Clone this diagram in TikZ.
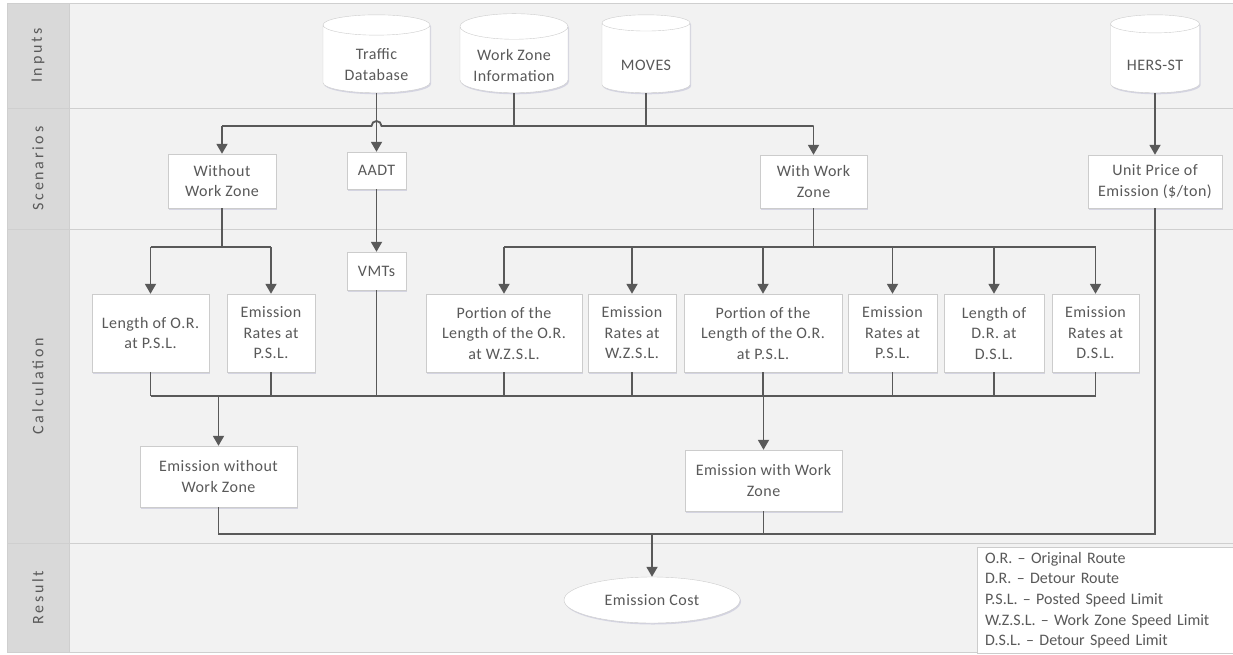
\documentclass[tikz,border=0pt]{standalone}
\usepackage{fontspec}
\setmainfont{Carlito}
\newfontfamily\lanefont[LetterSpace=17]{Carlito}
\newfontfamily\boxfont[LetterSpace=3]{Carlito}
\usetikzlibrary{shapes,shapes.geometric,arrows.meta,shadows,positioning,calc}
\definecolor{lanebg}{HTML}{F2F2F2}
\definecolor{lanehead}{HTML}{D9D9D9}
\definecolor{laneline}{HTML}{CFCFCF}
\definecolor{inkgray}{HTML}{595959}
\definecolor{boxline}{HTML}{CCCCCC}
\tikzset{
    box/.style={draw=boxline,fill=white,align=center,text=inkgray,inner sep=2pt,font=\boxfont\fontsize{16}{20.5}\selectfont,
        drop shadow={shadow xshift=1pt,shadow yshift=-1.5pt,fill=blue!25!gray,opacity=0.2}},
    db/.style={box,cylinder,shape border rotate=90,aspect=0.3,minimum height=78pt,anchor=south,text depth=0pt},
    dbone/.style={db,text height=22pt},
    dbtwo/.style={db,text height=40pt},
    endell/.style={box,ellipse},
    legend/.style={draw=boxline,fill=white,align=left,text=inkgray,font=\fontsize{16}{20.7}\selectfont},
    feed/.style={-{Triangle[width=11pt,length=10pt]},line width=1.8pt,draw=inkgray},
    merge/.style={-,line width=1.3pt,draw=inkgray},
    lanetxt/.style={rotate=90,text=inkgray,font=\lanefont\fontsize{16}{18}\selectfont},
}
\begin{document}
\begin{tikzpicture}[x=1pt,y=-1pt]
\useasboundingbox (0,0) rectangle (1233,654);
% Lanes
\fill[lanebg] (7,3) rectangle (1233,652);
\fill[lanehead] (7,3) rectangle (69,652);
\foreach \y in {3,108,229,543,652}
    \draw[laneline,line width=1pt] (7,\y) -- (1233,\y);
\draw[laneline,line width=1pt] (7,3) -- (7,652);
\draw[laneline] (69,3) -- (69,652);
\node[lanetxt] (inputs) at (38,55.5) {Inputs};
\node[lanetxt] (scenarios) at (38,168.5) {Scenarios};
\node[lanetxt] (calculation) at (38,386) {Calculation};
\node[lanetxt] (result) at (38,597.5) {Result};
% Inputs
\node[dbtwo,minimum width=107pt] (traffic) at (376.5,93) {Traffic\\Database};
\node[dbtwo,minimum width=108pt] (wzinfo) at (514,93) {Work Zone\\Information};
\node[dbone,minimum width=88pt] (moves) at (646,93) {MOVES};
\node[dbone,minimum width=89pt] (hers) at (1155,93) {HERS-ST};
% Scenarios
\node[box,minimum width=108pt,minimum height=54pt] (nowz) at (222,181) {Without\\Work Zone};
\node[box,minimum width=59pt,minimum height=37pt] (aadt) at (376.5,170.5) {AADT};
\node[box,minimum width=107pt,minimum height=53pt] (withwz) at (813.5,181.5) {With Work\\Zone};
\node[box,minimum width=134pt,minimum height=53pt] (price) at (1155,181.5) {Unit Price of\\Emission (\$/ton)};
% Calculation
\node[box,minimum width=117pt,minimum height=78pt] (lenor) at (150.5,333) {Length of O.R.\\at P.S.L.};
\node[box,minimum width=88pt,minimum height=78pt] (ratepsl) at (271,333) {Emission\\Rates at\\P.S.L.};
\node[box,minimum width=59pt,minimum height=38pt] (vmt) at (376.5,271) {VMTs};
\node[box,minimum width=156pt,minimum height=78pt] (portwz) at (504,333) {Portion of the\\Length of the O.R.\\at W.Z.S.L.};
\node[box,minimum width=88pt,minimum height=78pt] (ratewz) at (632,333) {Emission\\Rates at\\W.Z.S.L.};
\node[box,minimum width=158pt,minimum height=78pt] (portpsl) at (763,333) {Portion of the\\Length of the O.R.\\at P.S.L.};
\node[box,minimum width=89pt,minimum height=78pt] (ratepslb) at (892.5,333) {Emission\\Rates at\\P.S.L.};
\node[box,minimum width=100pt,minimum height=78pt] (lendr) at (994,333) {Length of\\D.R. at\\D.S.L.};
\node[box,minimum width=87pt,minimum height=78pt] (ratedsl) at (1095.5,333) {Emission\\Rates at\\D.S.L.};
\node[box,minimum width=157pt,minimum height=61pt] (emnowz) at (218.5,476.5) {Emission without\\Work Zone};
\node[box,minimum width=157pt,minimum height=61pt] (emwz) at (763.5,480.5) {Emission with Work\\Zone};
% Result
\node[endell,minimum width=176pt,minimum height=46pt,inner sep=0pt] (cost) at (652,600) {Emission Cost};
\node[legend,anchor=north west,text width=250pt,inner xsep=8pt,inner ysep=4pt,minimum height=106pt] (key) at (977,547)
    {O.R. \textendash{} Original Route\\D.R. \textendash{} Detour Route\\P.S.L. \textendash{} Posted Speed Limit\\W.Z.S.L. \textendash{} Work Zone Speed Limit\\D.S.L. \textendash{} Detour Speed Limit};
% Bus lines
\coordinate (topbus) at (0,126);
\coordinate (splitbus) at (0,247);
\coordinate (calcbus) at (0,396);
\coordinate (costbus) at (0,534);
% Inputs to scenarios
\draw[merge,line width=1.8pt] (nowz |- topbus) -- ($(traffic |- topbus)+(-5,0)$) arc (180:360:5) -- (withwz |- topbus);
\draw[merge,line width=1.8pt] (wzinfo.south) -- (wzinfo |- topbus);
\draw[merge,line width=1.8pt] (moves.south) -- (moves |- topbus);
\draw[feed] (nowz |- topbus) -- (nowz.north);
\draw[feed] (withwz |- topbus) -- (withwz.north);
\draw[feed] (traffic.south) -- (aadt.north);
\draw[feed] (hers.south) -- (price.north);
% Scenarios to calculation
\draw[merge] (nowz.south) -- (nowz |- splitbus);
\draw[merge] (lenor |- splitbus) -- (ratepsl |- splitbus);
\foreach \n in {lenor,ratepsl}
    \draw[feed] (\n |- splitbus) -- (\n.north);
\draw[feed] (aadt.south) -- (vmt.north);
\draw[merge] (withwz.south) -- (withwz |- splitbus);
\draw[merge] (portwz |- splitbus) -- (ratedsl |- splitbus);
\foreach \n in {portwz,ratewz,portpsl,ratepslb,lendr,ratedsl}
    \draw[feed] (\n |- splitbus) -- (\n.north);
% Calculation merge
\draw[merge] (lenor |- calcbus) -- (ratedsl |- calcbus);
\foreach \n in {lenor,ratepsl,vmt,portwz,ratewz,portpsl,ratepslb,lendr,ratedsl}
    \draw[merge] (\n.south) -- (\n |- calcbus);
\draw[feed] (emnowz |- calcbus) -- (emnowz.north);
\draw[feed] (emwz |- calcbus) -- (emwz.north);
% To result
\draw[merge] (emnowz.south) -- (emnowz |- costbus) -- (price |- costbus) -- (price.south);
\draw[merge] (emwz.south) -- (emwz |- costbus);
\draw[feed] (cost |- costbus) -- (cost.north);
\end{tikzpicture}
\end{document}
